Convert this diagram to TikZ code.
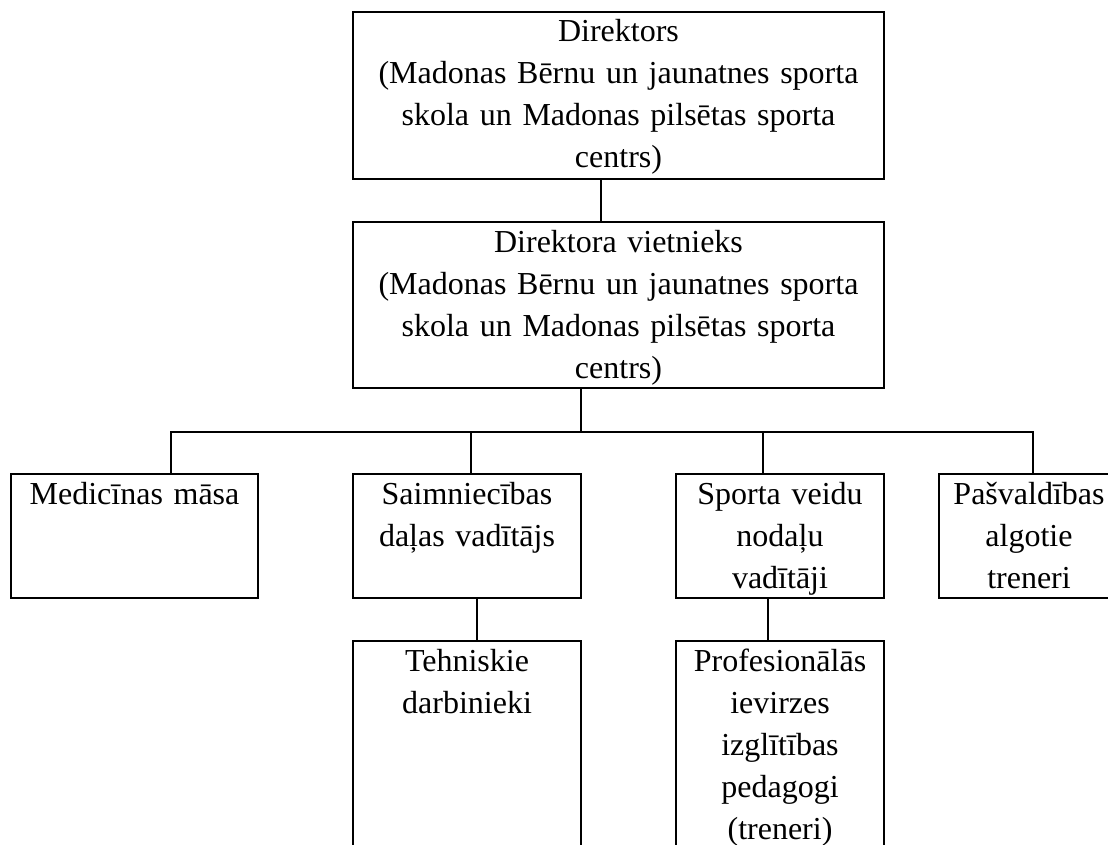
\documentclass[tikz,border=0pt]{standalone}
\usepackage{fontspec}
\setmainfont{Liberation Serif}
\usetikzlibrary{positioning}
\tikzset{
    boxnode/.style = {draw, rectangle, line width=2pt, inner sep=0pt, node distance=0em,
      align=center, text height=30pt, font=\fontsize{32pt}{42pt}\selectfont},
    link/.style = {black, line width=2pt}
}

\begin{document}
\begin{tikzpicture}
    \useasboundingbox (0,0) rectangle (1108pt,-845pt);
    \clip (0,0) rectangle (1108pt,-845pt);

    \node [name=dir, boxnode, text width=531pt, text depth=137pt] at (618.5pt,-95.5pt)
        {Direktors\\(Madonas Bērnu un jaunatnes sporta\\skola un Madonas pilsētas sporta\\centrs)};
    \node [name=vid, boxnode, text width=531pt, text depth=136pt,
        below of = dir, yshift=-209.5pt]
        {Direktora vietnieks\\(Madonas Bērnu un jaunatnes sporta\\skola un Madonas pilsētas sporta\\centrs)};

    \node [name=med, boxnode, text width=247pt, text depth=94pt,
        below of = vid, xshift=-484pt, yshift=-231pt] {Medicīnas māsa};
    \node [name=saim, boxnode, text width=228pt, text depth=94pt,
        right of = med, xshift=332.5pt] {Saimniecības\\daļas vadītājs};
    \node [name=sport, boxnode, text width=208pt, text depth=94pt,
        right of = saim, xshift=313pt] {Sporta veidu\\nodaļu\\vadītāji};
    \node [name=pasv, boxnode, text width=180pt, text depth=94pt,
        right of = sport, xshift=249pt] {Pašvaldības\\algotie\\treneri};

    \node [name=tehn, boxnode, text width=228pt, text depth=209pt,
        below of = saim, yshift=-224.5pt] {Tehniskie\\darbinieki};
    \node [name=prof, boxnode, text width=208pt, text depth=209pt,
        below of = sport, yshift=-224.5pt] {Profesionālās\\ievirzes\\izglītības\\pedagogi\\(treneri)};

    \draw [link] ([xshift=-17.5pt]dir.south) -- ([xshift=-17.5pt]vid.north);

    \coordinate (bus) at ([xshift=-37.5pt, yshift=-43pt]vid.south);
    \coordinate (medin) at ([xshift=36.5pt]med.north);
    \coordinate (saimin) at ([xshift=4pt]saim.north);
    \coordinate (sportin) at ([xshift=-17pt]sport.north);
    \coordinate (pasvin) at ([xshift=4pt]pasv.north);

    \draw [link] ([xshift=-37.5pt]vid.south) -- (bus);
    \draw [link] (medin) |- (pasvin |- bus) -- (pasvin);
    \draw [link] (saimin) -- (saimin |- bus);
    \draw [link] (sportin) -- (sportin |- bus);

    \draw [link] ([xshift=10pt]saim.south) -- ([xshift=10pt]tehn.north);
    \draw [link] ([xshift=-12pt]sport.south) -- ([xshift=-12pt]prof.north);
\end{tikzpicture}
\end{document}
